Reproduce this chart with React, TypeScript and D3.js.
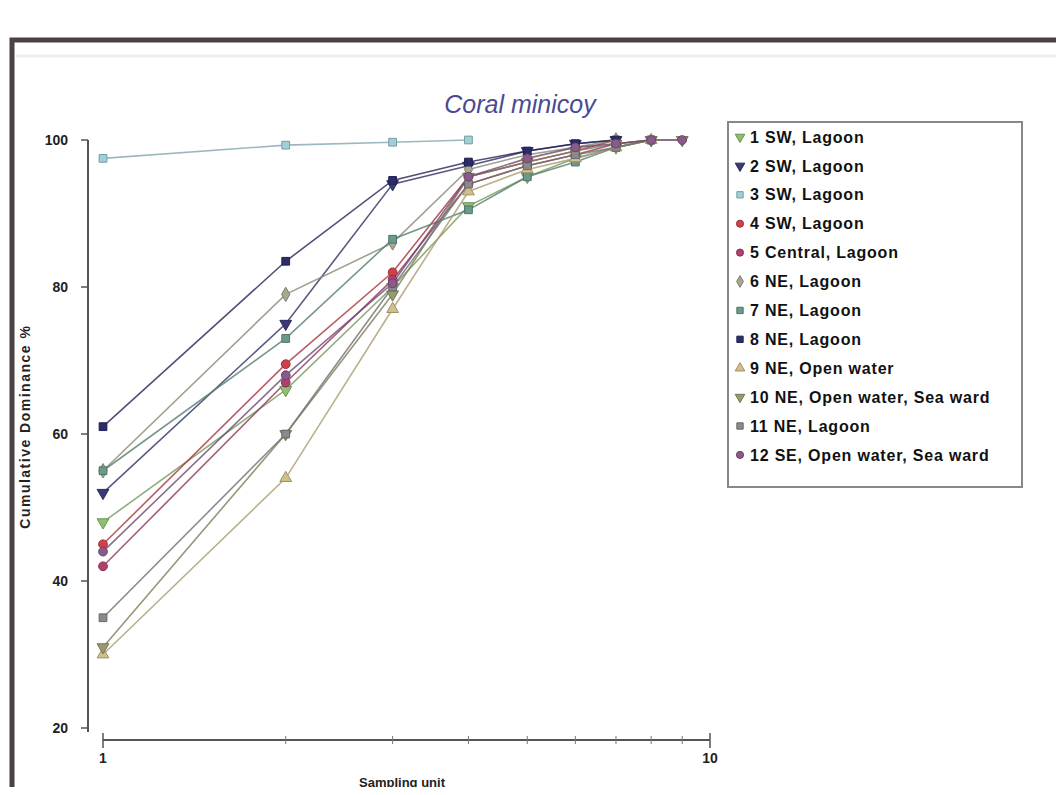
import React from 'react';
import * as d3 from 'd3';

const width = 1064;
const height = 795;

const seriesNames = [
  '1 SW, Lagoon',
  '2 SW, Lagoon',
  '3 SW, Lagoon',
  '4 SW, Lagoon',
  '5 Central, Lagoon',
  '6 NE, Lagoon',
  '7 NE, Lagoon',
  '8 NE, Lagoon',
  '9 NE, Open water',
  '10 NE, Open water, Sea ward',
  '11 NE, Lagoon',
  '12 SE, Open water, Sea ward',
];

const s1 = [48, 66, 80, 91, 95, 97.5, 99, 100];
const s2 = [52, 75, 94, 96.5, 98.5, 99.5, 100];
const s3 = [97.5, 99.3, 99.7, 100];
const s4 = [45, 69.5, 82, 95, 97, 98.5, 100];
const s5 = [42, 67, 81, 94, 96.5, 98, 99.5, 100];
const s6 = [55, 79, 86, 96, 98, 99, 100];
const s7 = [55, 73, 86.5, 90.5, 95, 97, 99, 100];
const s8 = [61, 83.5, 94.5, 97, 98.5, 99.5, 100];
const s9 = [30, 54, 77, 93, 96, 97.5, 99, 100];
const s10 = [31, 60, 79, 95, 97, 98.5, 99.5, 100, 100];
const s11 = [35, 60, 80, 94, 96.5, 98, 99, 100];
const s12 = [44, 68, 80.5, 95, 97.5, 99, 99.5, 100, 100];
const allSeries = [s1, s2, s3, s4, s5, s6, s7, s8, s9, s10, s11, s12];

const colors = [
  '#8fbf6f', '#3a3a78', '#9fd0d8', '#d0404a', '#b0406e', '#a8a890',
  '#6a9a8a', '#2c2c6a', '#d2c08a', '#9a9a70', '#8a8a8a', '#8a5a8a',
];
const symbols = [
  'tri-down', 'tri-down', 'square', 'circle', 'circle', 'diamond',
  'square', 'square', 'tri-up', 'tri-down', 'square', 'circle',
];

const yTicks = [20, 40, 60, 80, 100];
const xMinorTicks = [2, 3, 4, 5, 6, 7, 8, 9];

const x = d3.scaleLog().domain([1, 10]).range([103, 710]);
const y = d3.scaleLinear().domain([20, 100]).range([728, 140]);

function symbolPath(kind: string, size: number) {
  if (kind === 'tri-down' || kind === 'tri-up') return d3.symbol(d3.symbolTriangle, size)() as string;
  if (kind === 'square') return d3.symbol(d3.symbolSquare, size)() as string;
  if (kind === 'diamond') return d3.symbol(d3.symbolDiamond, size)() as string;
  return d3.symbol(d3.symbolCircle, size)() as string;
}

const Marker: React.FC<{ kind: string; color: string; cx: number; cy: number; size?: number }> = ({ kind, color, cx, cy, size = 60 }) => {
  const rot = kind === 'tri-down' ? 180 : 0;
  return (
    <path
      d={symbolPath(kind, size)}
      transform={`translate(${cx},${cy}) rotate(${rot})`}
      fill={color}
      stroke={d3.color(color)!.darker(0.8).formatHex()}
      strokeWidth={1}
    />
  );
};

export default function App() {
  const line = d3.line<number>().x((_, i) => x(i + 1)).y(d => y(d));
  const legendX = 728;
  const legendY = 122;
  const rowH = 28.9;

  return (
    <svg width={width} height={height} style={{ display: 'block', margin: '-8px', fontFamily: 'Arial, "Liberation Sans", sans-serif' }}>
      <rect x={0} y={0} width={width} height={height} fill="#fff" />
      {/* outer frame */}
      <path d={`M12,${height + 5} L12,40 L${width + 5},40`} fill="none" stroke="#4a4244" strokeWidth={5} />
      <line x1={16} x2={width} y1={56} y2={56} stroke="#f0f0f0" strokeWidth={3} />

      {/* title */}
      <text x={520} y={113} textAnchor="middle" fontSize={25} fontStyle="italic" fill="#4a4a92">Coral minicoy</text>

      {/* y axis */}
      <line x1={88} x2={88} y1={y(100)} y2={y(20) + 4} stroke="#555" strokeWidth={2} />
      {yTicks.map(t => (
        <g key={t}>
          <line x1={81} x2={88} y1={y(t)} y2={y(t)} stroke="#555" strokeWidth={1.5} />
          <text x={68} y={y(t)} dy="0.35em" textAnchor="end" fontSize={14} fontWeight="bold" fill="#222">{t}</text>
        </g>
      ))}
      <text transform={`translate(30,${y(61)}) rotate(-90)`} textAnchor="middle" fontSize={14} letterSpacing={1.5} fontWeight="bold" fill="#222">Cumulative Dominance %</text>

      {/* x axis */}
      <line x1={x(1)} x2={x(10)} y1={740} y2={740} stroke="#555" strokeWidth={2} />
      {[1, 10].map(t => (
        <g key={t}>
          <line x1={x(t)} x2={x(t)} y1={733} y2={748} stroke="#555" strokeWidth={1.5} />
          <text x={x(t)} y={763} textAnchor="middle" fontSize={14} fontWeight="bold" fill="#222">{t}</text>
        </g>
      ))}
      {xMinorTicks.map(t => (
        <line key={t} x1={x(t)} x2={x(t)} y1={736} y2={744} stroke="#777" strokeWidth={1} />
      ))}
      <text x={402} y={787} textAnchor="middle" fontSize={13} fontWeight="bold" fill="#222">Sampling unit</text>

      {/* series */}
      {allSeries.map((s, k) => (
        <path key={`l${k}`} d={line(s) as string} fill="none" stroke={d3.color(colors[k])!.darker(0.6).formatHex()} strokeWidth={1.6} opacity={0.8} />
      ))}
      {allSeries.map((s, k) => (
        <g key={`m${k}`}>
          {s.map((v, i) => (
            <Marker key={i} kind={symbols[k]} color={colors[k]} cx={x(i + 1)} cy={y(v)} />
          ))}
        </g>
      ))}

      {/* legend */}
      <rect x={legendX} y={legendY} width={294} height={365} fill="#fff" stroke="#888" strokeWidth={2} />
      {seriesNames.map((n, k) => (
        <g key={n}>
          <Marker kind={symbols[k]} color={colors[k]} cx={legendX + 12} cy={legendY + 15 + k * rowH} size={40} />
          <text x={legendX + 22} y={legendY + 15 + k * rowH} dy="0.35em" fontSize={16} letterSpacing={0.8} fontWeight="bold" fill="#111">{n}</text>
        </g>
      ))}
    </svg>
  );
}
